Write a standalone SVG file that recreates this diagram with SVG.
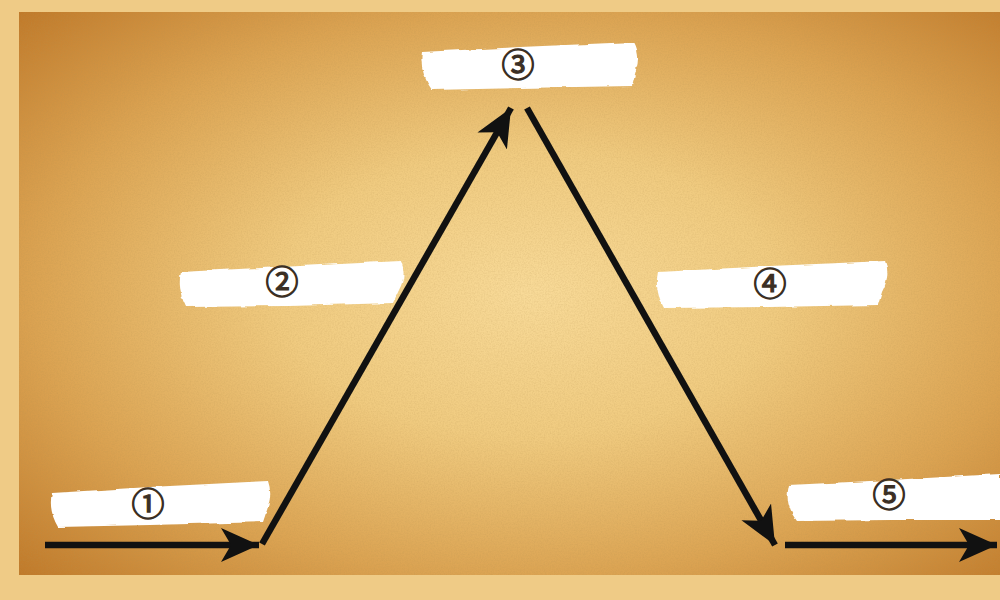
<svg xmlns="http://www.w3.org/2000/svg" width="1000" height="600" viewBox="0 0 1000 600">
  <defs>
    <radialGradient id="paper" cx="0.52" cy="0.5" r="0.72">
      <stop offset="0" stop-color="#F8DA98"/>
      <stop offset="0.35" stop-color="#F0CB80"/>
      <stop offset="0.7" stop-color="#DBA352"/>
      <stop offset="1" stop-color="#C07A2A"/>
    </radialGradient>
    <filter id="grain" x="0" y="0" width="100%" height="100%">
      <feTurbulence type="fractalNoise" baseFrequency="0.7" numOctaves="3" seed="4" result="n"/>
      <feColorMatrix in="n" type="matrix" values="0 0 0 0 0.45  0 0 0 0 0.28  0 0 0 0 0.08  0 0 0 -1.4 0.9" result="c"/>
      <feComposite in="c" in2="SourceGraphic" operator="in"/>
    </filter>
    <filter id="rough" x="-5%" y="-20%" width="110%" height="140%">
      <feTurbulence type="fractalNoise" baseFrequency="0.04 0.15" numOctaves="2" seed="2" result="t"/>
      <feDisplacementMap in="SourceGraphic" in2="t" scale="3.5" xChannelSelector="R" yChannelSelector="G"/>
    </filter>
    <marker id="head" viewBox="0 0 40 36" refX="38" refY="18" markerWidth="40" markerHeight="36" markerUnits="userSpaceOnUse" orient="auto">
      <path d="M0,1 L38,18 L0,35 L10,18 Z" fill="#111"/>
    </marker>
    <style>
      .brush { fill: #FFFFFF; filter: url(#rough); }
      .num { font-family: "Noto Sans CJK JP", "DejaVu Sans", sans-serif; font-size: 33px; font-weight: 400; fill: #3B2F24; stroke: #3B2F24; stroke-width: 1.2; text-anchor: middle; dominant-baseline: central; }
      .arrow { stroke: #111; stroke-width: 6.5; fill: none; marker-end: url(#head); }
    </style>
  </defs>

  <rect x="0" y="0" width="1000" height="600" fill="#EFCB86"/>
  <rect x="19" y="12" width="981" height="563" fill="url(#paper)"/>
  <rect x="19" y="12" width="981" height="563" fill="#000" filter="url(#grain)" opacity="0.25"/>

  <g id="node-1">
    <path class="brush" d="M52,493 L150,487 L268,481 Q273,495 267,510 L263,522 L150,525 L58,527 Q48,510 52,493 Z"/>
    <text class="num" x="148" y="502">①</text>
  </g>
  <g id="node-2">
    <path class="brush" d="M181,272 L300,266 L401,261 Q407,275 399,290 L393,303 L290,306 L186,307 Q177,290 181,272 Z"/>
    <text class="num" x="282" y="280">②</text>
  </g>
  <g id="node-3">
    <path class="brush" d="M422,52 L520,47 L634,42 Q641,55 636,70 L632,86 L520,88 L432,90 Q419,72 422,52 Z"/>
    <text class="num" x="518" y="63">③</text>
  </g>
  <g id="node-4">
    <path class="brush" d="M658,272 L770,266 L885,261 Q891,275 882,292 L878,305 L770,307 L664,308 Q654,290 658,272 Z"/>
    <text class="num" x="770" y="282">④</text>
  </g>
  <g id="node-5">
    <path class="brush" d="M789,485 L890,480 L1000,474 L1000,520 L890,520 L797,521 Q784,505 789,485 Z"/>
    <text class="num" x="889" y="493">⑤</text>
  </g>

  <g id="connectors">
    <line class="arrow" x1="45" y1="545" x2="259" y2="545"/>
    <line class="arrow" x1="262" y1="544" x2="511" y2="108"/>
    <line class="arrow" x1="527" y1="108" x2="775" y2="545"/>
    <line class="arrow" x1="785" y1="545" x2="997" y2="545"/>
  </g>
</svg>
